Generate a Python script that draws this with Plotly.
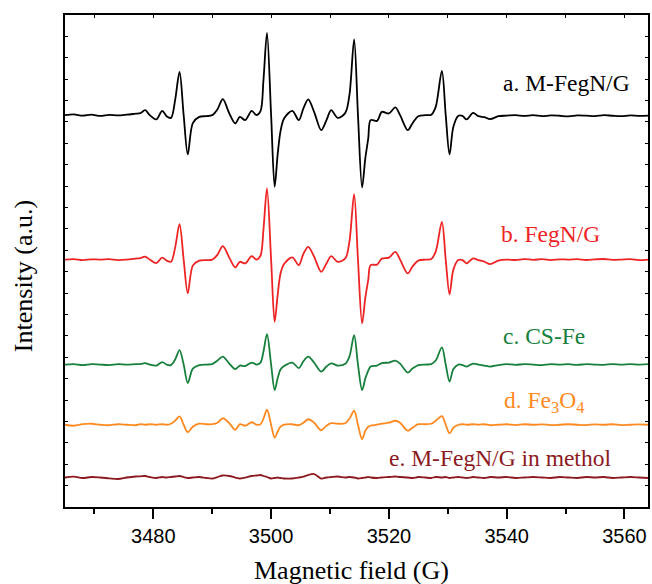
import plotly.graph_objects as go

# Magnetic field positions (G) shared by all spectra
FIELD_G = [
    3465.0, 3466.5, 3468.0, 3469.5, 3471.0, 3472.5, 3474.0, 3475.5, 3477.0, 3477.8,
    3478.6, 3479.4, 3480.5, 3481.5, 3482.25, 3483.0, 3483.7, 3484.45, 3485.15, 3485.85, 3486.7, 3487.8,
    3489.0, 3490.0, 3490.9, 3491.8, 3492.9, 3493.9, 3494.7, 3495.6, 3496.7, 3497.5,
    3498.2, 3498.7, 3499.3, 3500.0, 3500.6, 3501.1, 3501.6, 3502.2,
    3503.6, 3504.7, 3505.5, 3506.3, 3507.3, 3508.5, 3509.4, 3510.2, 3511.3, 3512.6,
    3513.3, 3514.1, 3514.75, 3515.45, 3516.0, 3516.5, 3516.9, 3518.0, 3518.8, 3520.0,
    3521.1, 3521.9, 3523.2, 3524.0, 3525.0, 3526.2, 3527.2, 3527.95, 3529.0, 3529.65,
    3530.3, 3530.95, 3531.8, 3532.5, 3533.2, 3534.3, 3535.2, 3536.2, 3537.2, 3538.6,
    3540.0, 3541.5, 3543.0, 3544.5, 3546.0, 3547.5, 3549.0, 3550.5, 3552.0, 3553.5,
    3555.0, 3556.5, 3558.0, 3559.5, 3561.0, 3562.5, 3564.0,
]

# EPR intensities (a.u.) of each sample, relative to its own baseline
SPEC_M_FEGN_G = [
    0.0, 0.08, -0.05, 0.05, -0.08, 0.03, -0.03, 0.05, 0.15, 0.2,
    0.5, 0.0, -0.43, 0.43, -0.1, -0.27, 1.5, 4.33, 0.0, -3.93, -0.8, -0.17,
    -0.1, 0.0, 0.6, 1.6, 0.17, -0.83, -0.17, -0.5, 0.43, 0.0,
    0.4, 3.5, 8.23, 0.0, -7.17, -4.0, -1.6, -0.33,
    0.43, -0.5, 0.7, 1.57, 0.33, -1.5, -0.5, 0.5, -0.27, 0.23,
    2.0, 7.57, 0.0, -7.23, -4.3, -2.3, -0.5, -0.57, 0.33, 0.17,
    0.77, 0.0, -1.5, -0.83, -0.1, 0.0, 0.05, 0.83, 4.43, 0.0,
    -3.93, -1.17, -0.07, -0.07, -0.43, 0.23, -0.1, -0.2, -0.4, -0.1,
    -0.05, 0.0, -0.08, 0.0, -0.1, -0.03, -0.06, -0.12, -0.02, -0.05,
    -0.1, 0.0, -0.06, -0.1, -0.03, -0.08, -0.05,
]

SPEC_FEGN_G = [
    0.0, 0.05, -0.05, 0.03, 0.0, 0.05, -0.05, 0.0, 0.1, 0.15,
    0.3, 0.0, -0.35, 0.2, -0.1, -0.22, 1.2, 3.55, 0.0, -3.38, -0.6, -0.1,
    -0.05, 0.0, 0.5, 1.35, 0.2, -0.78, -0.22, -0.38, 0.35, 0.0,
    0.4, 3.0, 7.12, 0.0, -6.22, -3.6, -1.4, -0.45,
    0.22, -0.55, 0.6, 1.28, 0.3, -1.22, -0.4, 0.35, -0.22, 0.12,
    1.8, 6.55, 0.0, -6.38, -3.8, -2.0, -0.55, -0.5, 0.1, 0.2,
    0.78, 0.0, -1.38, -0.7, -0.1, 0.0, 0.05, 0.8, 3.78, 0.0,
    -3.48, -1.0, -0.05, -0.05, -0.38, 0.12, -0.05, -0.2, -0.45, -0.1,
    0.0, -0.04, 0.05, -0.02, 0.04, -0.05, 0.03, 0.0, 0.05, -0.04,
    0.02, 0.06, -0.03, 0.0, 0.04, -0.05, 0.0,
]

SPEC_CS_FE = [
    0.0, 0.05, -0.05, 0.05, 0.0, -0.05, 0.05, 0.0, 0.05, 0.05,
    0.15, 0.0, -0.1, 0.25, 0.0, -0.05, 0.5, 1.45, 0.0, -1.85, -0.4, -0.05,
    0.0, 0.05, 0.4, 0.8, 0.1, -0.45, -0.1, -0.15, 0.2, 0.0,
    0.2, 1.3, 3.05, 0.0, -2.55, -1.4, -0.5, -0.15,
    0.2, -0.35, 0.35, 0.8, 0.2, -0.7, -0.2, 0.12, -0.1, 0.08,
    0.8, 2.95, 0.0, -2.55, -1.4, -0.6, -0.2, -0.1, 0.15, 0.2,
    0.4, 0.1, -0.8, -0.4, -0.05, 0.0, 0.05, 0.4, 1.72, 0.0,
    -1.7, -0.45, 0.0, -0.05, -0.2, 0.1, 0.0, -0.1, -0.2, -0.05,
    0.05, -0.03, 0.04, 0.0, -0.05, 0.05, 0.0, 0.04, -0.04, 0.05,
    0.0, -0.03, 0.05, 0.0, 0.05, 0.0, 0.05,
]

SPEC_FE3O4 = [
    0.0, -0.1, 0.05, 0.1, 0.0, -0.05, 0.05, 0.0, -0.05, 0.05,
    0.0, 0.05, 0.0, 0.05, 0.0, 0.1, 0.4, 0.83, 0.0, -0.75, -0.2, 0.1,
    0.05, 0.05, 0.2, 0.65, 0.15, -0.5, 0.05, -0.1, 0.25, 0.0,
    0.05, 0.6, 1.5, 0.0, -1.3, -0.7, -0.2, 0.0,
    0.05, -0.05, 0.2, 0.55, 0.2, -0.55, -0.1, 0.15, 0.1, 0.15,
    0.6, 1.4, 0.0, -1.45, -0.6, -0.2, -0.1, 0.0, 0.1, 0.2,
    0.4, 0.2, -0.6, -0.3, 0.05, 0.05, 0.1, 0.4, 0.87, 0.0,
    -0.86, -0.3, 0.0, 0.05, 0.0, 0.05, 0.0, 0.05, -0.05, 0.0,
    0.05, -0.03, 0.05, 0.0, 0.04, -0.04, 0.0, 0.05, 0.0, -0.03,
    0.04, 0.0, 0.05, -0.04, 0.0, 0.03, 0.0,
]

SPEC_M_FEGN_G_METHOL = [
    0.0, 0.08, -0.05, 0.05, 0.0, -0.08, -0.15, 0.0, 0.1, 0.12,
    0.15, 0.05, -0.05, 0.05, 0.0, 0.05, 0.1, 0.15, 0.05, -0.05, 0.0, 0.05,
    -0.05, -0.1, 0.05, 0.2, 0.15, 0.0, -0.1, 0.0, 0.15, 0.2,
    0.25, 0.15, 0.05, -0.1, -0.05, 0.0, -0.05, -0.1,
    -0.1, 0.0, 0.1, 0.25, 0.35, -0.1, 0.0, 0.05, 0.1, 0.0,
    0.05, 0.0, -0.1, -0.05, 0.0, 0.05, 0.0, -0.05, 0.0, 0.05,
    0.1, 0.05, 0.0, -0.05, 0.05, 0.0, -0.05, 0.05, 0.0, 0.05,
    -0.05, 0.0, 0.05, 0.0, -0.05, 0.05, 0.0, -0.05, 0.05, 0.0,
    0.05, -0.05, 0.0, 0.05, 0.0, -0.05, 0.05, 0.0, -0.05, 0.05,
    0.0, 0.05, -0.05, 0.0, 0.05, 0.0, -0.05,
]

SPECTRA = [SPEC_M_FEGN_G, SPEC_FEGN_G, SPEC_CS_FE, SPEC_FE3O4, SPEC_M_FEGN_G_METHOL]
for s in SPECTRA:
    assert len(s) == len(FIELD_G), (len(s), len(FIELD_G))

LABELS = ["a. M-FegN/G", "b. FegN/G", "c. CS-Fe", "d. Fe<sub>3</sub>O<sub>4</sub>",
          "e. M-FegN/G in methol"]
OFFSETS = [39.2, 24.75, 14.25, 8.23, 2.95]
COLORS = ["#000000", "#EE2424", "#17803C", "#FF8A22", "#8C1A1E"]
LABEL_POS = [(3539.0, 42.43), (3538.74, 27.33), (3539.03, 17.1), (3539.13, 10.53), (3519.68, 4.87)]

SERIF = "Liberation Serif, Times New Roman, serif"
SANS = "Liberation Sans, Arial, sans-serif"

fig = go.Figure()
for vals, off, col in zip(SPECTRA, OFFSETS, COLORS):
    fig.add_trace(go.Scatter(
        x=FIELD_G, y=[v + off for v in vals], mode="lines",
        line=dict(color=col, width=1.8, shape="spline", smoothing=0.9),
        showlegend=False, hoverinfo="skip",
    ))

# empty trace to bring up the top axis (inward ticks)
fig.add_trace(go.Scatter(x=[], y=[], xaxis="x2", showlegend=False))

for text, (xp, yp), col in zip(LABELS, LABEL_POS, COLORS):
    fig.add_annotation(x=xp, y=yp, xref="x", yref="y", text=text, showarrow=False,
                       xanchor="left", yanchor="middle",
                       font=dict(family=SERIF, size=23.5, color=col))

fig.add_annotation(x=0.4913, y=-0.1297, xref="paper", yref="paper",
                   text="Magnetic field (G)", showarrow=False,
                   xanchor="center", yanchor="middle",
                   font=dict(family=SERIF, size=26, color="black"))
fig.add_annotation(x=-0.0709, y=0.4685, xref="paper", yref="paper",
                   text="Intensity (a.u.)", showarrow=False, textangle=-90,
                   xanchor="center", yanchor="middle",
                   font=dict(family=SERIF, size=26, color="black"))

XRANGE = [3465.0, 3564.0]
fig.update_layout(
    width=652, height=584,
    margin=dict(l=65, r=2, t=15, b=77),
    paper_bgcolor="white", plot_bgcolor="white",
    xaxis=dict(
        range=XRANGE, tickmode="linear", tick0=3480, dtick=20,
        ticks="outside", ticklen=10, tickwidth=1.5, tickcolor="black",
        minor=dict(dtick=10, tick0=3470, ticks="outside", ticklen=5, tickwidth=1.5, tickcolor="black"),
        showline=True, linewidth=2, linecolor="black", mirror=True,
        showgrid=False, zeroline=False,
        tickfont=dict(family=SANS, size=20, color="black"),
    ),
    xaxis2=dict(
        range=XRANGE, overlaying="x", side="top", tickmode="linear", tick0=3470, dtick=10,
        ticks="inside", ticklen=3, tickwidth=1.2, tickcolor="black",
        showticklabels=False, showline=False, showgrid=False, zeroline=False,
    ),
    yaxis=dict(
        range=[0, 49.22], tickmode="linear", tick0=0, dtick=2.14,
        ticks="inside", ticklen=3, tickwidth=1.2, tickcolor="black",
        showticklabels=False, showline=True, linewidth=2, linecolor="black", mirror="ticks",
        showgrid=False, zeroline=False,
    ),
)

fig.write_html("out.html")
